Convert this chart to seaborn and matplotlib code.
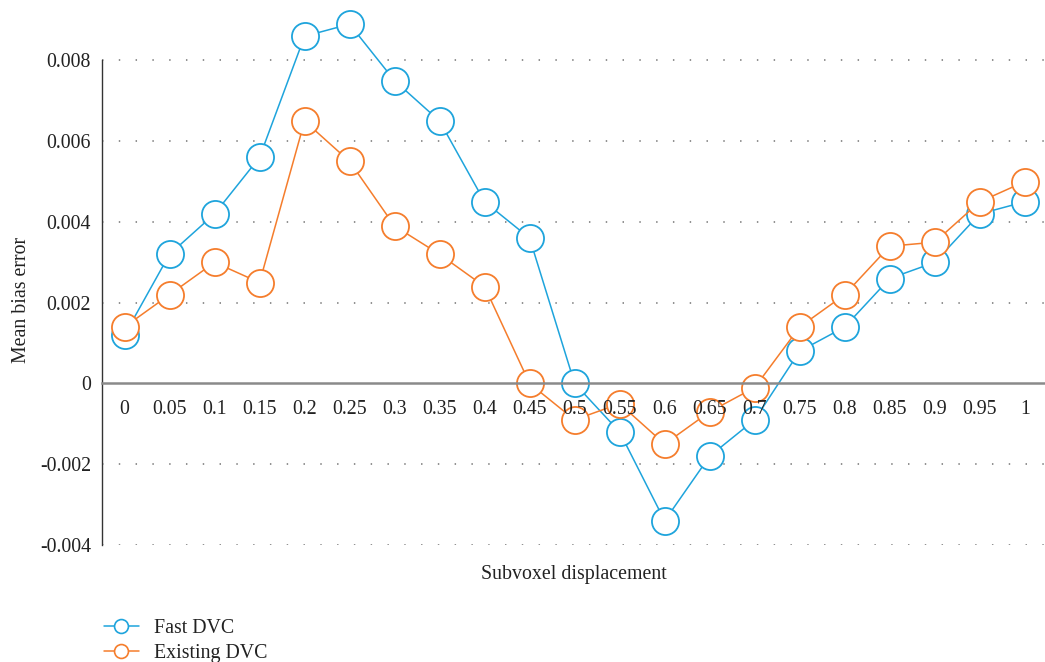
import numpy as np
import pandas as pd
import matplotlib
matplotlib.use("Agg")
import matplotlib.pyplot as plt
import seaborn as sns
from matplotlib.lines import Line2D

categories = ["0", "0.05", "0.1", "0.15", "0.2", "0.25", "0.3", "0.35", "0.4", "0.45", "0.5",
              "0.55", "0.6", "0.65", "0.7", "0.75", "0.8", "0.85", "0.9", "0.95", "1"]
fast_dvc = [0.0012, 0.0032, 0.0042, 0.0056, 0.0086, 0.0089, 0.0075, 0.0065, 0.0045, 0.0036, 0.0,
            -0.0012, -0.0034, -0.0018, -0.0009, 0.0008, 0.0014, 0.0026, 0.0030, 0.0042, 0.0045]
existing_dvc = [0.0014, 0.0022, 0.0030, 0.0025, 0.0065, 0.0055, 0.0039, 0.0032, 0.0024, 0.0, -0.0009,
                -0.0005, -0.0015, -0.0007, -0.0001, 0.0014, 0.0022, 0.0034, 0.0035, 0.0045, 0.0050]
yticks = [-0.004, -0.002, 0, 0.002, 0.004, 0.006, 0.008]
ytick_labels = ["-0.004", "-0.002", "0", "0.002", "0.004", "0.006", "0.008"]
series_names = ["Fast DVC", "Existing DVC"]
colors = ["#1ea4dc", "#f57d2c"]

sns.set_style("white")
plt.rcParams["font.family"] = ["Liberation Serif", "DejaVu Serif"]

fig = plt.figure(figsize=(10.45, 6.62), dpi=100)
ax = fig.add_axes([102 / 1045, 1 - 545 / 662, 943 / 1045, 537 / 662])

pos = np.arange(len(categories))
for name, vals, c in zip(series_names, [fast_dvc, existing_dvc], colors):
    df = pd.DataFrame({"x": pos, "y": vals})
    sns.lineplot(data=df, x="x", y="y", ax=ax, color=c, linewidth=1.1, marker="o",
                 markersize=19.5, markerfacecolor="white", markeredgecolor=c,
                 markeredgewidth=1.3, sort=False, legend=False, zorder=2)

ax.set_xlim(-0.5, 20.45)
ax.set_ylim(-0.004, 0.0093)

for yv in yticks:
    if yv != 0:
        ax.axhline(yv, color="#888888", linewidth=1.3, linestyle=(0, (0.8, 8.5)), zorder=0.5)

ax.set_axisbelow(False)
ax.grid(False)
ax.spines["top"].set_visible(False)
ax.spines["right"].set_visible(False)
ax.spines["bottom"].set_position(("data", 0))
ax.spines["bottom"].set_color("#8a8a8a")
ax.spines["bottom"].set_linewidth(1.8)
ax.spines["left"].set_color("#333333")
ax.spines["left"].set_linewidth(1.0)
ax.spines["left"].set_bounds(-0.004, 0.008)

ax.set_yticks(yticks)
ax.set_yticklabels(ytick_labels)
ax.tick_params(axis="y", length=0, pad=8, labelsize=14.3, labelcolor="#222222")

ax.set_xticks(pos)
ax.set_xticklabels(categories)
ax.set_xticks(pos[:-1] + 0.5, minor=True)
ax.tick_params(axis="x", which="major", length=0, pad=12, labelsize=14.3, labelcolor="#222222")
ax.tick_params(axis="x", which="minor", length=5.5, width=1.5, color="#8a8a8a", direction="out")

ax.set_xlabel("Subvoxel displacement", fontsize=14.3, color="#222222")
ax.xaxis.set_label_coords(0.5, -0.038)
ax.set_ylabel("Mean bias error", fontsize=14.3, color="#222222")
ax.yaxis.set_label_coords(-0.075, 0.456)

handles = [Line2D([0], [0], color=c, linewidth=1.1, marker="o", markersize=10,
                  markerfacecolor="white", markeredgecolor=c, markeredgewidth=1.2)
           for c in colors]
fig.legend(handles, series_names, loc="lower left", bbox_to_anchor=(90 / 1045, -0.023),
           frameon=False, fontsize=14.3, handlelength=1.75, handletextpad=0.75,
           labelspacing=0.3, borderpad=0.2, labelcolor="#222222")

fig.savefig("out.png", dpi=100)
